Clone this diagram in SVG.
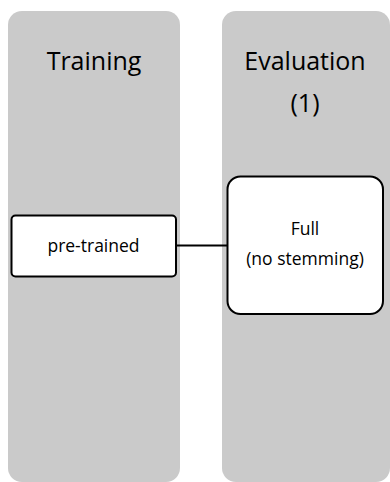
<svg xmlns="http://www.w3.org/2000/svg" width="390" height="482" viewBox="0 0 390 482">
  <style>
    .lane { fill: #cacaca; }
    .box { fill: #ffffff; stroke: #000000; stroke-width: 2; }
    .head { font-family: "Open Sans", "Liberation Sans", sans-serif; font-size: 25px; fill: #000; text-anchor: middle; }
    .lbl { font-family: "Open Sans", "Liberation Sans", sans-serif; font-size: 17.5px; fill: #000; text-anchor: middle; }
    .edge { stroke: #000000; stroke-width: 2; fill: none; }
  </style>
  <g id="lane-training">
    <rect class="lane" x="8" y="11" width="172" height="471" rx="14"/>
    <text class="head" x="94" y="70">Training</text>
  </g>
  <g id="lane-evaluation">
    <rect class="lane" x="222" y="11" width="168" height="471" rx="14"/>
    <text class="head" x="305" y="70">Evaluation</text>
    <text class="head" x="305" y="112">(1)</text>
  </g>
  <g id="connectors">
    <line class="edge" x1="176" y1="245.5" x2="227" y2="245.5"/>
  </g>
  <g id="node-pretrained">
    <rect class="box" x="11.5" y="215.5" width="164.5" height="61" rx="4"/>
    <text class="lbl" x="93.5" y="252">pre-trained</text>
  </g>
  <g id="node-full">
    <rect class="box" x="227.5" y="176.5" width="155.5" height="137.5" rx="13"/>
    <text class="lbl" x="305" y="235">Full</text>
    <text class="lbl" x="305" y="265">(no stemming)</text>
  </g>
</svg>
